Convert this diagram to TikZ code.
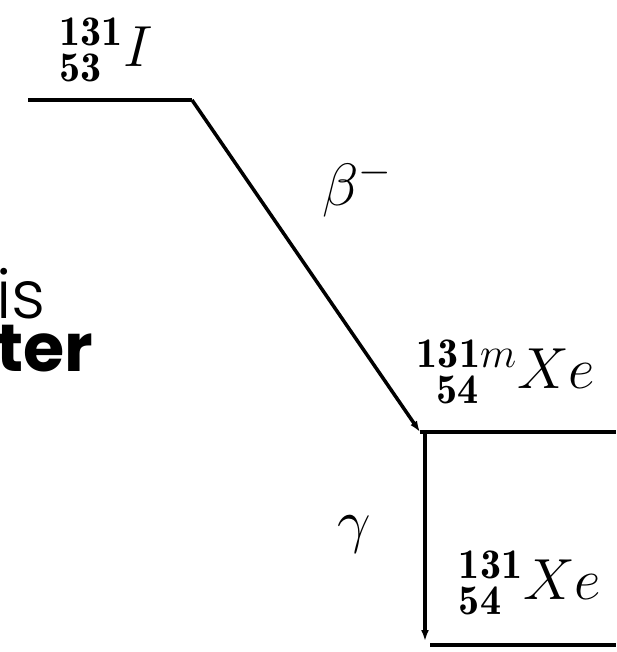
\RequirePackage{fix-cm}
\documentclass[tikz,border=0pt]{standalone}
\usepackage{fontspec}
\usepackage{amsmath}
\usetikzlibrary{arrows.meta,positioning}
\newfontfamily\poppins{Poppins}
\newfontfamily\poppinslight{Poppins Light}
\DeclareMathSizes{33}{33}{24}{18}

\begin{document}
\begin{tikzpicture}[
    x=0.02cm, y=-0.02cm,
    level/.style={line width=2.3pt, draw=black},
    decay/.style={-{Latex[length=2.2mm, width=1.6mm]}, line width=2pt, draw=black},
    nuclide/.style={inner sep=0pt, font=\fontsize{33}{38}\selectfont},
    mode/.style={inner sep=0pt, font=\fontsize{34}{40}\selectfont},
    frag/.style={inner sep=0pt, anchor=base west, font=\poppins\fontsize{38}{44}\selectfont}
]
\useasboundingbox (0,0) rectangle (616,652);
% energy levels
\coordinate (iL) at (28,100);
\coordinate (iR) at (192,100);
\coordinate (xmL) at (420,432);
\coordinate (xmR) at (616,432);
\coordinate (xgL) at (430,645);
\coordinate (xgR) at (616,645);
\coordinate (gTop) at (425,433);
\coordinate (gBot) at (425,641);
\draw[level] (iL) -- (iR);
\draw[level] (xmL) -- (xmR);
\draw[level] (xgL) -- (xgR);
% transitions
\draw[decay] (iR) -- (xmL);
\draw[decay] (gTop) -- (gBot);
% labels
\node[nuclide] (iodine) at (106,50) {${}^{\mathbf{131}}_{\mathbf{53}}I$};
\node[nuclide] (xenonm) at (506,372) {${}^{\mathbf{131}m}_{\phantom{1}\mathbf{54}}Xe$};
\node[nuclide] (xenon) at (530,583) {${}^{\mathbf{131}}_{\mathbf{54}}Xe$};
\node[mode] (beta) at (357,188) {$\beta^-$};
\node[mode] (gamma) at (354,534) {$\gamma$};
% cut-off text at the left edge
\node[frag, font=\poppinslight\fontsize{38}{44}\selectfont] (txtA) at (-4,318) {is};
\node[frag, font=\poppins\bfseries\fontsize{38}{44}\selectfont] (txtB) at (-4,371) {ter};
\end{tikzpicture}
\end{document}
